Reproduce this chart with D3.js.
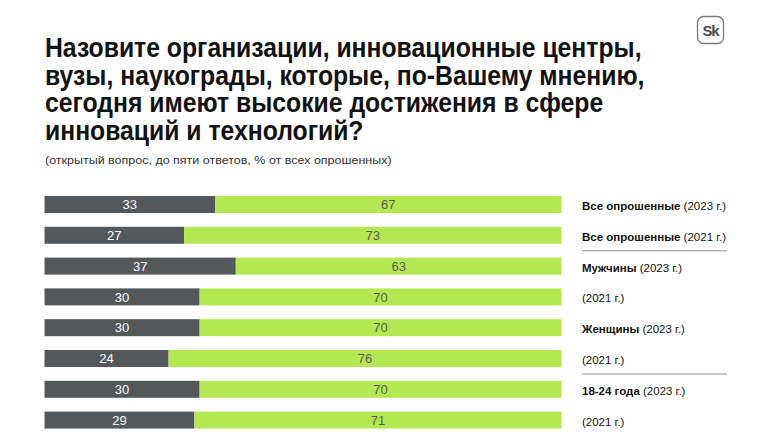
<!DOCTYPE html>
<html><head><meta charset="utf-8">
<script src="https://cdn.jsdelivr.net/npm/d3@7"></script>
<style>
html,body{margin:0;padding:0;background:#fff;}
svg{display:block;font-family:"Liberation Sans",Arial,Helvetica,sans-serif;}
</style></head>
<body>
<svg id="c" width="768" height="432"></svg>
<script>
const titleLines = [
  "Назовите организации, инновационные центры,",
  "вузы, наукограды, которые, по-Вашему мнению,",
  "сегодня имеют высокие достижения в сфере",
  "инноваций и технологий?"
];
const subtitle = "(открытый вопрос, до пяти ответов, % от всех опрошенных)";
const groups = ["Все опрошенные","Все опрошенные","Мужчины","","Женщины","","18-24 года",""];
const years = ["(2023 г.)","(2021 г.)","(2023 г.)","(2021 г.)","(2023 г.)","(2021 г.)","(2023 г.)","(2021 г.)"];
const named = [33,27,37,30,30,24,30,29];
const notNamed = [67,73,63,70,70,76,70,71];
const separatorsAfter = [1,5];

const svg = d3.select("#c");
const rows = d3.range(named.length);

const x = d3.scaleLinear().domain([0,100]).range([44.5,561.5]);
const y = d3.scaleBand().domain(rows).range([196,428.6]).paddingInner(0.448).paddingOuter(0);

// Title
const tg = svg.append("g");
const tt = tg.selectAll("text").data(titleLines).join("text")
  .attr("x",0).attr("y",(d,i)=>57.3+i*27.6)
  .attr("font-size",28).attr("font-weight","bold").attr("fill","#121212")
  .text(d=>d);
const w1 = tt.node().getComputedTextLength();
const sx = 597/w1;
tg.attr("transform",`translate(45,0) scale(${sx},1)`);

const sg = svg.append("g");
const st = sg.append("text").attr("x",0).attr("y",164).attr("font-size",11.5).attr("fill","#333").text(subtitle);
const sw = st.node().getComputedTextLength();
sg.attr("transform",`translate(45,0) scale(${347/sw},1)`);

// Logo
const lg = svg.append("g");
lg.append("rect").attr("x",697.5).attr("y",16.5).attr("width",26).attr("height",27).attr("rx",6)
  .attr("fill","#fff").attr("stroke","#7a7a7a").attr("stroke-width",1.3);
lg.append("text").attr("x",710.5).attr("y",35.5).attr("text-anchor","middle")
  .attr("font-size",15).attr("font-weight","bold").attr("fill","#4a4d50").attr("letter-spacing",-1.2).text("Sk");

// Bars
svg.append("g").selectAll("rect").data(rows).join("rect")
  .attr("x",x(0)).attr("y",i=>y(i)).attr("width",i=>x(named[i])-x(0)).attr("height",y.bandwidth())
  .attr("fill","#54585b");
svg.append("g").selectAll("rect").data(rows).join("rect")
  .attr("x",i=>x(named[i])).attr("y",i=>y(i)).attr("width",i=>x(named[i]+notNamed[i])-x(named[i])).attr("height",y.bandwidth())
  .attr("fill","#b3e852");

// Value labels
svg.append("g").selectAll("text").data(rows).join("text")
  .attr("x",i=>(x(0)+x(named[i]))/2).attr("y",i=>y(i)+y.bandwidth()/2).attr("dy","0.36em")
  .attr("text-anchor","middle").attr("font-size",13).attr("fill","#ffffff").text(i=>named[i]);
svg.append("g").selectAll("text").data(rows).join("text")
  .attr("x",i=>(x(named[i])+x(named[i]+notNamed[i]))/2).attr("y",i=>y(i)+y.bandwidth()/2).attr("dy","0.36em")
  .attr("text-anchor","middle").attr("font-size",13).attr("fill","#5a5c50").text(i=>notNamed[i]);

// Row labels
const lab = svg.append("g").selectAll("text").data(rows).join("text")
  .attr("x",582).attr("y",i=>y(i)+y.bandwidth()/2+1.5).attr("dy","0.35em")
  .attr("font-size",11.5).attr("fill","#111");
lab.each(function(i){
  const t = d3.select(this);
  if(groups[i]) t.append("tspan").attr("font-weight","bold").text(groups[i]+" ");
  t.append("tspan").text(years[i]);
});

// Separators
svg.append("g").selectAll("line").data(separatorsAfter).join("line")
  .attr("x1",582).attr("x2",727)
  .attr("y1",i=>(y(i)+y.bandwidth()+y(i+1))/2).attr("y2",i=>(y(i)+y.bandwidth()+y(i+1))/2)
  .attr("stroke","#b4b4b4").attr("stroke-width",1.5);
</script>
</body></html>
